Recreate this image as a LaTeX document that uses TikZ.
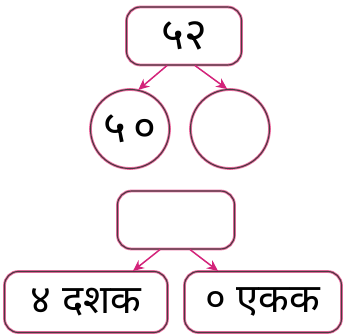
\documentclass[tikz,border=0pt]{standalone}
\usepackage{fontspec}
\newfontfamily\devfont[Script=Devanagari]{Noto Sans}
\usetikzlibrary{arrows.meta}
\definecolor{pinkline}{HTML}{EC6FA2}
\definecolor{arrowpink}{HTML}{D3237A}
\definecolor{edgegray}{HTML}{4A3A40}

\begin{document}
\begin{tikzpicture}[x=1pt,y=-1pt,
    font=\devfont,
    frame/.style={draw=edgegray, line width=1.1pt, preaction={draw=pinkline, line width=2.8pt}},
    numbox/.style={frame, rounded corners=14pt, minimum width=#1, minimum height=58pt, inner sep=0pt},
    ring/.style={frame, circle, minimum size=79pt, inner sep=0pt},
    split/.style={-{Stealth[length=11pt,width=10pt]}, draw=arrowpink, fill=arrowpink, line width=1.5pt}]

      % picture size
      \useasboundingbox (0,0) rectangle (343,334);

      % first tree
      \node[numbox=115pt] (top) at (184,36) {\fontsize{44}{46}\selectfont ५२};
      \node[ring] (tens) at (130,129) {\fontsize{44}{46}\selectfont ५\,०};
      \node[ring] (ones) at (230,129) {};
      \draw[split] ([xshift=-17pt]top.south) -- (tens.78);
      \draw[split] ([xshift=11pt]top.south) -- (ones.94);

      % second tree
      \node[numbox=117pt] (mid) at (176,220) {};
      \node[numbox=163pt, minimum height=61pt] (dashak) at (86,302) {\fontsize{40}{42}\selectfont ४ दशक};
      \node[numbox=157pt, minimum height=61pt] (ekak) at (263,302) {\fontsize{40}{42}\selectfont ० एकक};
      \draw[split] ([xshift=-16pt]mid.south) -- ([xshift=47pt]dashak.north);
      \draw[split] ([xshift=14pt]mid.south) -- ([xshift=-45pt]ekak.north);

    \end{tikzpicture}
\end{document}
